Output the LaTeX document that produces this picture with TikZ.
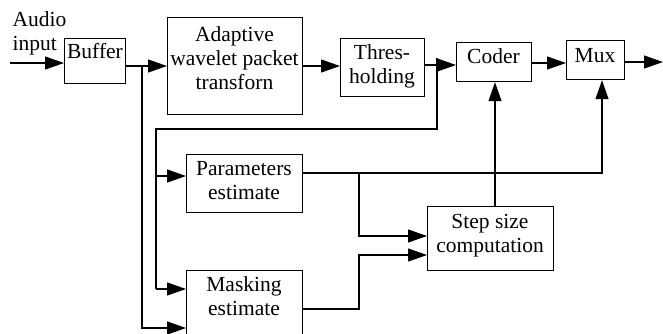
\documentclass[tikz,border=0pt]{standalone}
\usepackage{fontspec}
\setmainfont{Liberation Serif}
\usetikzlibrary{arrows.meta}
\begin{document}
\begin{tikzpicture}[x=1pt,y=-1pt,line width=1.2pt,
  box/.style={draw,rectangle,inner sep=0pt,anchor=north west},
  txt/.style={align=center,inner sep=0pt,anchor=base,font=\fontsize{21.5}{24}\selectfont},
  arr/.style={-{Triangle[length=19pt,width=13pt]}}]
\useasboundingbox (0,0) rectangle (663,333);
\clip (0,0) rectangle (663,333);
% boxes
\node[box,minimum width=61pt,minimum height=45pt] (buf) at (64,38) {};
\node[box,minimum width=135pt,minimum height=97pt] (adapt) at (167,17) {};
\node[box,minimum width=84pt,minimum height=58pt] (thr) at (340,38) {};
\node[box,minimum width=75pt,minimum height=39pt] (coder) at (456,42) {};
\node[box,minimum width=58pt,minimum height=39pt] (mux) at (566,40) {};
\node[box,minimum width=116pt,minimum height=58pt] (par) at (186,154) {};
\node[box,minimum width=126pt,minimum height=64pt] (step) at (427,206) {};
\node[box,minimum width=116pt,minimum height=80pt] (mask) at (186,270) {};
% texts (anchor base = baseline of last line)
\node[txt,align=left,anchor=base west] (audio-t) at (12,50) {Audio\\input};
\node[txt] (buf-t) at (95,58) {Buffer};
\node[txt] (adapt-t) at (234.5,89) {Adaptive\\wavelet packet\\transforn};
\node[txt] (thr-t) at (382,83) {Thres-\\holding};
\node[txt] (coder-t) at (493.5,63) {Coder};
\node[txt] (mux-t) at (595,62) {Mux};
\node[txt] (par-t) at (244,199) {Parameters\\estimate};
\node[txt] (step-t) at (490,252) {Step size\\computation};
\node[txt] (mask-t) at (244,315) {Masking\\estimate};
% coordinates
\coordinate (in) at (10,63);
\coordinate (j1) at (142,66);
\coordinate (j2) at (142,328);
\coordinate (j3) at (437,65);
\coordinate (j3top) at (437,58);
\coordinate (j4) at (437,129);
\coordinate (j5) at (156,129);
\coordinate (j6) at (156,176);
\coordinate (j7) at (156,289);
\coordinate (c1) at (531,63);
\coordinate (out) at (663,62);
\coordinate (p1) at (302,173);
\coordinate (p2) at (602,173);
\coordinate (s1) at (495,0);
\coordinate (q1) at (359,173);
\coordinate (q2) at (359,236);
\coordinate (m1) at (359,309);
\coordinate (m2) at (359,255);
% connectors
\draw[arr] (in) -- (in -| buf.west);
\draw[arr] (buf.east |- j1) -- (adapt.west |- j1);
\draw[arr] (j1) -- (j2) -- (j2 -| mask.west);
\draw[arr] (adapt.east |- j1) -- (thr.west |- j1);
\draw[arr] (thr.east |- j3) -- (coder.west |- j3);
\draw (j3top) -- (j4) -- (j5) -- (j7);
\draw[arr] (j6) -- (j6 -| par.west);
\draw[arr] (j7) -- (j7 -| mask.west);
\draw[arr] (coder.east |- c1) -- (mux.west |- c1);
\draw[arr] (mux.east |- out) -- (out);
\draw[arr] (par.east |- p1) -- (p2) -- (p2 |- mux.south);
\draw[arr] (step.north -| s1) -- (coder.south -| s1);
\draw[arr] (q1) -- (q2) -- (q2 -| step.west);
\draw[arr] (mask.east |- m1) -- (m1) -- (m2) -- (m2 -| step.west);
\end{tikzpicture}
\end{document}
